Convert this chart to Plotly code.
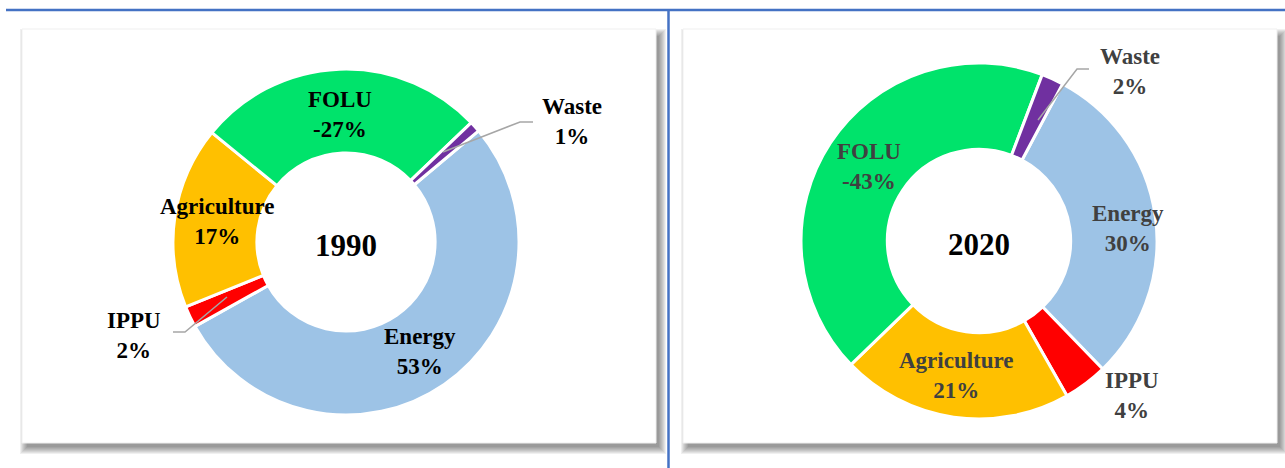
import plotly.graph_objects as go

W, H = 1285, 468

# Emission shares by sector (%), negative = net sink
sectors = ["Energy", "IPPU", "Agriculture", "FOLU", "Waste"]
shares_1990 = [53, 2, 17, -27, 1]
shares_2020 = [30, 4, 21, -43, 2]
years = ["1990", "2020"]

colors = ["#9DC3E6", "#FF0000", "#FFC000", "#00E36B", "#7030A0"]
FONT = "Liberation Serif"


def px(x):
    return x / W


def py(y):
    return 1 - y / H


fig = go.Figure()

# donut geometry: centre (px), outer radius (px), start angle (deg clockwise from 12)
donuts = [
    dict(shares=shares_1990, year=years[0], cx=346, cy=242, r=173, rot=50, color="#000000"),
    dict(shares=shares_2020, year=years[1], cx=979, cy=241, r=178, rot=28, color="#404040"),
]

for d in donuts:
    fig.add_trace(go.Pie(
        labels=sectors,
        values=[abs(v) for v in d["shares"]],
        customdata=d["shares"],
        sort=False,
        direction="clockwise",
        rotation=d["rot"],
        hole=0.515,
        textinfo="none",
        hoverinfo="skip",
        showlegend=False,
        marker=dict(colors=colors, line=dict(color="white", width=3)),
        domain=dict(x=[px(d["cx"] - d["r"]), px(d["cx"] + d["r"])],
                    y=[py(d["cy"] + d["r"]), py(d["cy"] - d["r"])]),
    ))

# panel frames with soft drop shadow
panels = [(22, 29, 656, 443), (683, 29, 1277, 443)]
shapes = []
for x0, y0, x1, y1 in panels:
    for b in range(8):
        shapes.append(dict(
            type="rect", xref="paper", yref="paper", layer="below",
            x0=px(x0 + 5 - b), x1=px(x1 + 3 + b), y0=py(y0 + 7 - b), y1=py(y1 + 4 + b),
            fillcolor="rgba(0,0,0,0.06)", line=dict(width=0),
        ))
    shapes.append(dict(
        type="rect", xref="paper", yref="paper", layer="below",
        x0=px(x0), x1=px(x1), y0=py(y0), y1=py(y1),
        fillcolor="white", line=dict(color="#EFEFEF", width=1),
    ))

# separator lines
shapes.append(dict(type="line", xref="paper", yref="paper", x0=px(6), x1=1, y0=py(10), y1=py(10),
                   line=dict(color="#4472C4", width=2.5)))
shapes.append(dict(type="line", xref="paper", yref="paper", x0=px(668.5), x1=px(668.5), y0=py(10), y1=0,
                   line=dict(color="#4472C4", width=2.5)))

# leader lines for small slices
leaders = [
    [(443, 152), (520, 122), (533, 122)],
    [(227, 297), (185, 332), (173, 332)],
    [(1038, 120), (1077, 69), (1089, 69)],
]
for pts in leaders:
    path = "M " + " L ".join(f"{px(x):.5f},{py(y):.5f}" for x, y in pts)
    shapes.append(dict(type="path", xref="paper", yref="paper", layer="above", path=path,
                       line=dict(color="#A6A6A6", width=1.5)))

# label centres (px) for each sector
label_pos = [
    {"Energy": (420, 351), "IPPU": (134, 335), "Agriculture": (217, 221), "FOLU": (340, 114), "Waste": (572, 122)},
    {"Energy": (1128, 228), "IPPU": (1132, 395), "Agriculture": (956, 375), "FOLU": (869, 166), "Waste": (1130, 71)},
]

annotations = []
for d, pos in zip(donuts, label_pos):
    for name, val in zip(sectors, d["shares"]):
        x, y = pos[name]
        annotations.append(dict(
            x=px(x), y=py(y), xref="paper", yref="paper", showarrow=False,
            xanchor="center", yanchor="middle",
            text=f"<b>{name}<br>{val}%</b>",
            font=dict(family=FONT, size=23, color=d["color"]),
        ))
    annotations.append(dict(
        x=px(d["cx"]), y=py(d["cy"] + 3), xref="paper", yref="paper", showarrow=False,
        xanchor="center", yanchor="middle", text=f"<b>{d['year']}</b>",
        font=dict(family=FONT, size=31, color="#000000"),
    ))

fig.update_layout(
    width=W, height=H,
    margin=dict(l=0, r=0, t=0, b=0),
    paper_bgcolor="white", plot_bgcolor="white",
    shapes=shapes, annotations=annotations,
)

fig.write_html("out.html")
